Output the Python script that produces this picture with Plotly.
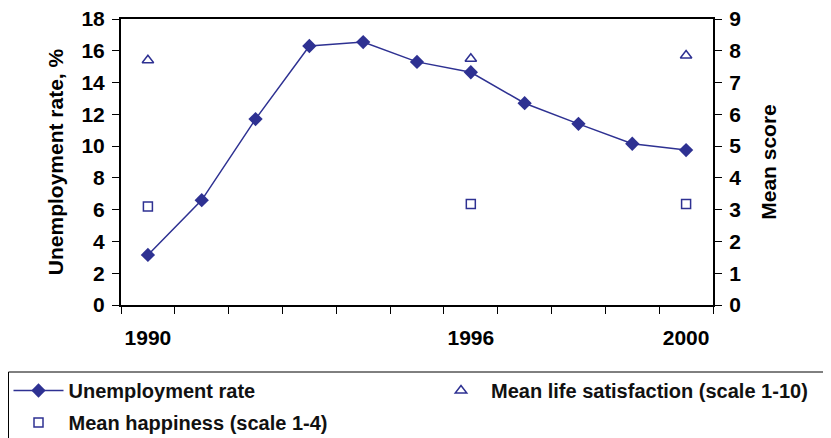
import plotly.graph_objects as go

years = [1990, 1991, 1992, 1993, 1994, 1995, 1996, 1997, 1998, 1999, 2000]
unemployment = [3.15, 6.6, 11.7, 16.3, 16.55, 15.3, 14.65, 12.7, 11.4, 10.15, 9.75]

survey_years = [1990, 1996, 2000]
life_satisfaction = [7.7, 7.75, 7.85]
happiness = [3.1, 3.18, 3.18]

label_years = [1990, 1996, 2000]
left_ticks = list(range(0, 19, 2))
right_ticks = list(range(0, 10))

NAVY = "#2E3192"
FAMILY = "Liberation Sans, Arial, sans-serif"
FONT = dict(family=FAMILY, size=21, color="black", weight="bold")
LEGFONT = dict(family=FAMILY, size=20, color="#111", weight="bold")

# figure geometry (page body has an 8px margin)
W, H = 823, 430
ML, MR, MT, MB = 113, 118, 11, 133
PW, PH = W - ML - MR, H - MT - MB

def px_x(fx):
    return (fx - ML) / PW

def px_y(fy):
    return (H - MB - fy) / PH

boundaries = [y - 0.5 for y in years] + [years[-1] + 0.5]
xr = [years[0] - 0.5, years[-1] + 0.5]

fig = go.Figure()
fig.add_trace(go.Scatter(
    x=years, y=unemployment, name="Unemployment rate", mode="lines+markers",
    line=dict(color=NAVY, width=1.5),
    marker=dict(symbol="diamond", size=11, color=NAVY),
    yaxis="y", legend="legend",
))
fig.add_trace(go.Scatter(
    x=survey_years, y=life_satisfaction, name="Mean life satisfaction (scale 1-10)",
    mode="markers", marker=dict(symbol="triangle-up-open", size=10, color=NAVY, line=dict(width=1.5, color=NAVY)),
    yaxis="y2", legend="legend2",
))
fig.add_trace(go.Scatter(
    x=survey_years, y=happiness, name="Mean happiness (scale 1-4)",
    mode="markers", marker=dict(symbol="square-open", size=9, color=NAVY, line=dict(width=1.5, color=NAVY)),
    yaxis="y2", legend="legend3",
))

common_leg = dict(orientation="h", xref="container", yref="container", xanchor="left", yanchor="top",
                  itemwidth=50, font=LEGFONT, bgcolor="rgba(0,0,0,0)", borderwidth=0)

fig.update_layout(
    width=W, height=H,
    margin=dict(l=ML, r=MR, t=MT, b=MB, autoexpand=False),
    paper_bgcolor="white", plot_bgcolor="white",
    font=FONT,
    showlegend=True,
    legend=dict(common_leg, x=0.5 / W, y=1 - 363 / H),
    legend2=dict(common_leg, x=423 / W, y=1 - 363 / H),
    legend3=dict(common_leg, x=0.5 / W, y=1 - 395 / H),
    shapes=[dict(type="rect", xref="paper", yref="paper",
                 x0=px_x(0.5), x1=px_x(W + 20), y0=px_y(364), y1=px_y(H + 20),
                 line=dict(color="black", width=1), fillcolor="rgba(0,0,0,0)", layer="below")],
    xaxis=dict(
        range=xr, tickmode="array", tickvals=label_years, ticktext=[str(v) for v in label_years],
        ticks="", showgrid=False, zeroline=False, showline=True, linecolor="black", linewidth=2,
        mirror=True, ticklabelstandoff=13,
        minor=dict(tickmode="array", tickvals=boundaries, ticks="outside", ticklen=7, tickcolor="black", tickwidth=1, showgrid=False),
    ),
    xaxis2=dict(
        range=xr, overlaying="x", anchor="y", side="bottom", tickmode="array", tickvals=boundaries,
        ticks="inside", ticklen=6, tickcolor="black", showticklabels=False, showgrid=False,
        zeroline=False, showline=False,
    ),
    yaxis=dict(
        range=[0, 18], tickmode="array", tickvals=left_ticks, ticks="outside", ticklen=7,
        tickcolor="black", showgrid=False, zeroline=False, showline=True, linecolor="black", linewidth=2,
        title=dict(text="Unemployment rate, %", font=FONT, standoff=12), ticklabelstandoff=3,
        ticklabeloverflow="allow",
    ),
    yaxis2=dict(
        range=[0, 9], overlaying="y", side="right", anchor="x", tickmode="array", tickvals=right_ticks,
        ticks="outside", ticklen=7, tickcolor="black", showgrid=False, zeroline=False, showline=True,
        linecolor="black", linewidth=2, title=dict(text="Mean score", font=FONT, standoff=21), ticklabelstandoff=3,
        ticklabeloverflow="allow",
    ),
    yaxis3=dict(
        range=[0, 18], overlaying="y", side="left", anchor="x", tickmode="array", tickvals=left_ticks,
        ticks="inside", ticklen=7, tickcolor="black", showticklabels=False, showgrid=False,
        zeroline=False, showline=False,
    ),
    yaxis4=dict(
        range=[0, 9], overlaying="y", side="right", anchor="x", tickmode="array", tickvals=right_ticks,
        ticks="inside", ticklen=7, tickcolor="black", showticklabels=False, showgrid=False,
        zeroline=False, showline=False,
    ),
)

fig.write_html("out.html")
